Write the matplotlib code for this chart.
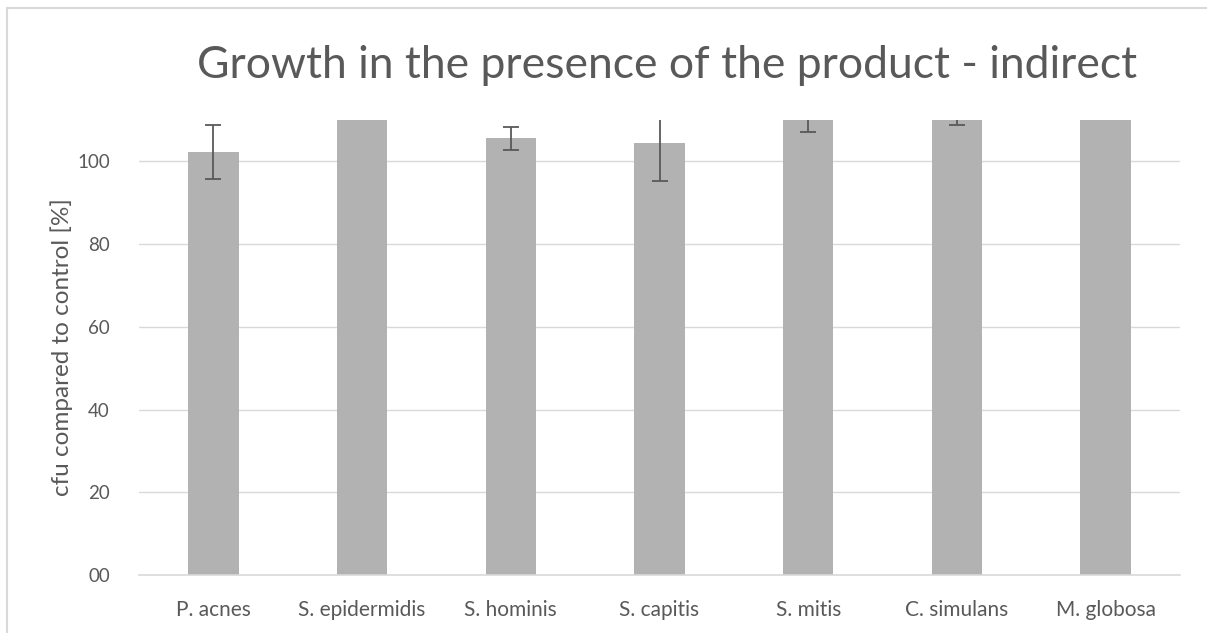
import matplotlib
matplotlib.use("Agg")
import matplotlib.pyplot as plt
from matplotlib.lines import Line2D
import numpy as np

categories = ["P. acnes", "S. epidermidis", "S. hominis", "S. capitis",
              "S. mitis", "C. simulans", "M. globosa"]
values = [102.3, 125.0, 105.6, 104.4, 115.0, 113.0, 130.0]
errors = [6.5, 0.0, 2.8, 9.2, 8.0, 4.1, 0.0]
ytick_values = [0, 20, 40, 60, 80, 100]
ytick_labels = ["00", "20", "40", "60", "80", "100"]
title = "Growth in the presence of the product - indirect"
ylabel = "cfu compared to control [%]"

TXT = "#595959"
plt.rcParams['font.family'] = ['Lato', 'DejaVu Sans']

fig = plt.figure(figsize=(12.07, 6.33), dpi=100)
ax = fig.add_axes([139/1207, 1-575/633, (1180-139)/1207, (575-120)/633])

x = np.arange(len(categories))
ax.bar(x, values, width=0.34, color="#B2B2B2", zorder=2)
ax.errorbar(x, values, yerr=errors, fmt="none", ecolor="#595959",
            elinewidth=1.3, capsize=5.5, capthick=1.3, zorder=3)

ax.set_xlim(-0.5, len(categories) - 0.5)
ax.set_ylim(0, 110)
ax.set_yticks(ytick_values)
ax.set_yticklabels(ytick_labels)
ax.set_xticks(x)
ax.set_xticklabels(categories)
ax.tick_params(axis="both", length=0, colors=TXT)
ax.tick_params(axis="y", pad=21, labelsize=13.5)
ax.tick_params(axis="x", pad=18, labelsize=15)
ax.yaxis.grid(True, color="#D9D9D9", linewidth=1.0, zorder=0)
ax.set_axisbelow(True)
for s in ["top", "right", "left"]:
    ax.spines[s].set_visible(False)
ax.spines["bottom"].set_color("#D9D9D9")
ax.spines["bottom"].set_linewidth(1.2)

ax.set_ylabel(ylabel, color=TXT, fontsize=17.5, labelpad=3)
fig.text(667/1207, 1-65/633, title, color=TXT, fontsize=32,
         ha="center", va="center")

# outer chart border (left and top visible)
fig.add_artist(Line2D([6.5/1207, 6.5/1207], [0, 1-8/633], transform=fig.transFigure,
                      color="#D9D9D9", linewidth=1.5))
fig.add_artist(Line2D([6.5/1207, 1], [1-8/633, 1-8/633], transform=fig.transFigure,
                      color="#D9D9D9", linewidth=1.5))

fig.savefig("out.png", dpi=100)
